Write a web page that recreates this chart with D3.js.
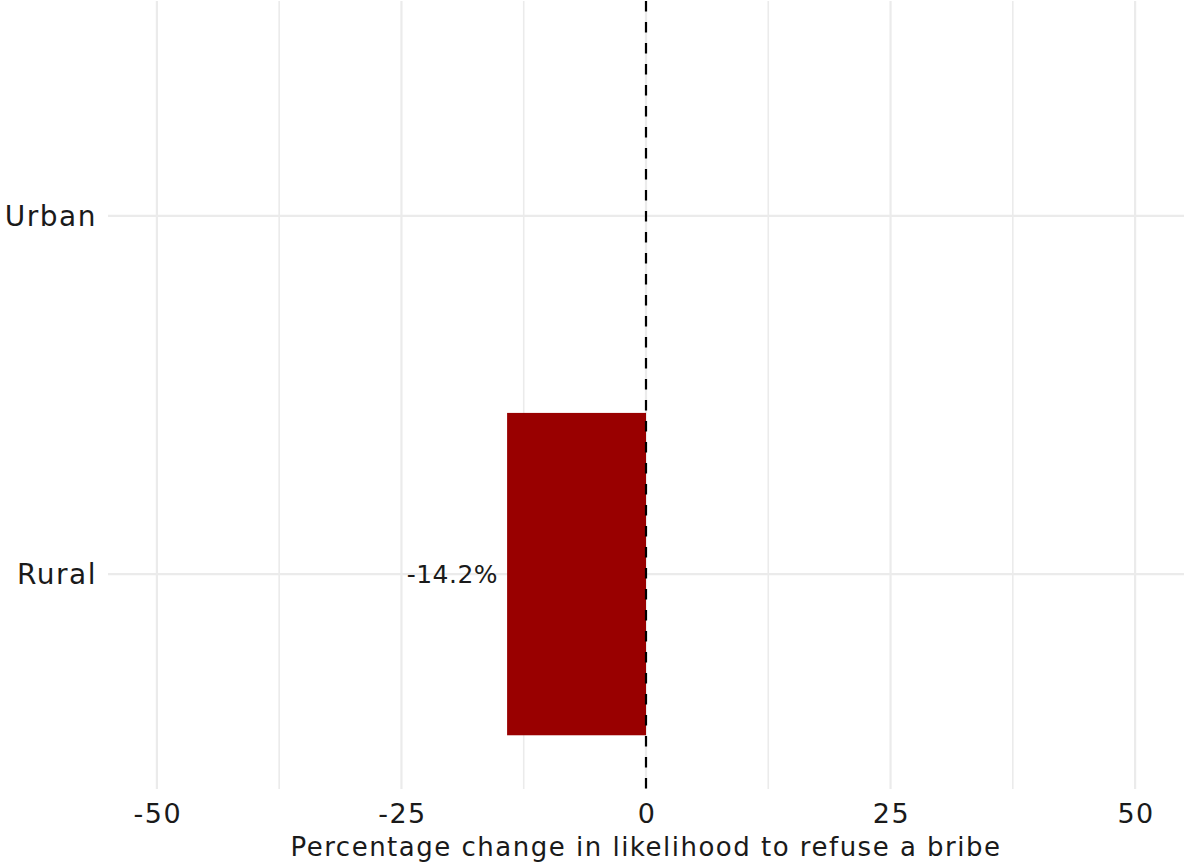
<html>
<head>
<meta charset="utf-8">
<title>refuse a bribe</title>
<style>
    body { margin: 0; background: #fff; }
    svg { display: block; font-family: "DejaVu Sans", "Noto Sans", sans-serif; }
</style>
</head>
<body>
<script src="https://cdn.jsdelivr.net/npm/d3@7"></script>
<script>
    // data
    var categories = ['Rural', 'Urban'];
    var values = [-14.2, null];
    var xTicks = [-50, -25, 0, 25, 50];
    var xMinor = [-37.5, -12.5, 12.5, 37.5];
    var xTitle = 'Percentage change in likelihood to refuse a bribe';

    var w = 1184, h = 865;
    var svg = d3.select('body').append('svg').attr('width', w).attr('height', h);

    var x = d3.scaleLinear().domain([-55, 55]).range([108, 1184]);
    // discrete positions 1..n with ggplot-style 0.6 expansion
    var y = d3.scaleLinear().domain([0.4, categories.length + 0.6]).range([789, 1]);
    var bandH = y(1) - y(2);

    var grid = svg.append('g');
    grid.selectAll('line.minor').data(xMinor).enter().append('line')
        .attr('x1', d => x(d)).attr('x2', d => x(d))
        .attr('y1', y.range()[1]).attr('y2', y.range()[0])
        .attr('stroke', '#ebebeb').attr('stroke-width', 1.6);
    grid.selectAll('line.major').data(xTicks).enter().append('line')
        .attr('x1', d => x(d)).attr('x2', d => x(d))
        .attr('y1', y.range()[1]).attr('y2', y.range()[0])
        .attr('stroke', '#ebebeb').attr('stroke-width', 2.2);
    grid.selectAll('line.hy').data(categories).enter().append('line')
        .attr('x1', x.range()[0]).attr('x2', x.range()[1])
        .attr('y1', (d, i) => y(i + 1)).attr('y2', (d, i) => y(i + 1))
        .attr('stroke', '#ebebeb').attr('stroke-width', 2.2);

    // bars
    var rows = categories.map((c, i) => ({ cat: c, pos: i + 1, val: values[i] }))
        .filter(d => d.val != null);
    svg.selectAll('rect.bar').data(rows).enter().append('rect')
        .attr('x', d => Math.min(x(d.val), x(0)))
        .attr('width', d => Math.abs(x(d.val) - x(0)))
        .attr('y', d => y(d.pos) - bandH * 0.45)
        .attr('height', bandH * 0.9)
        .attr('fill', '#990000');

    svg.selectAll('text.lab').data(rows).enter().append('text')
        .attr('x', d => x(d.val) - 9)
        .attr('y', d => y(d.pos))
        .attr('dy', '0.35em')
        .attr('text-anchor', 'end')
        .attr('font-size', 25)
        .attr('letter-spacing', 0.5)
        .attr('fill', '#1a1a1a')
        .text(d => d.val.toFixed(1) + '%');

    // zero line
    svg.append('line')
        .attr('x1', x(0)).attr('x2', x(0))
        .attr('y1', y.range()[1]).attr('y2', y.range()[0])
        .attr('stroke', '#000').attr('stroke-width', 2.2)
        .attr('stroke-dasharray', '10.5,10.5');

    // axes text
    svg.selectAll('text.xt').data(xTicks).enter().append('text')
        .attr('x', d => x(d) + 1).attr('y', 823)
        .attr('text-anchor', 'middle')
        .attr('font-size', 27)
        .attr('letter-spacing', 1.5)
        .attr('fill', '#1a1a1a')
        .text(d => d);

    svg.selectAll('text.yt').data(categories).enter().append('text')
        .attr('x', 97).attr('y', (d, i) => y(i + 1))
        .attr('dy', '0.35em')
        .attr('text-anchor', 'end')
        .attr('font-size', 28)
        .attr('letter-spacing', 1.5)
        .attr('fill', '#1a1a1a')
        .text(d => d);

    svg.append('text')
        .attr('x', x(0)).attr('y', 856)
        .attr('text-anchor', 'middle')
        .attr('font-size', 26)
        .attr('letter-spacing', 1.5)
        .attr('fill', '#1a1a1a')
        .text(xTitle);
</script>
</body>
</html>
